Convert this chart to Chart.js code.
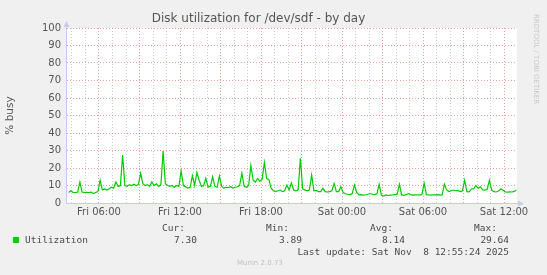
<!DOCTYPE html>
<html>
<head>
<meta charset="utf-8">
<script src="https://cdn.jsdelivr.net/npm/chart.js@4/dist/chart.umd.min.js"></script>
<style>
    html, body { margin: 0; padding: 0; background: #f0f0f0; }
    #wrap { position: relative; width: 547px; height: 275px; overflow: hidden; }
    #chartCanvas { position: absolute; left: 0; top: 0; }
    .txt { position: absolute; font-family: 'DejaVu Sans Mono', monospace; font-size: 9.5px; line-height: 11px; color: #4a4a4a; white-space: pre; }
    .r { text-align: right; }
    #swatch { position: absolute; left: 13px; top: 237px; width: 6px; height: 6px; background: #00cc00; }
    #munin { position: absolute; left: 237px; top: 259px; font-family: 'DejaVu Sans', sans-serif; font-size: 7px; color: #c0c0c0; }
    #rrd { position: absolute; left: 532px; top: 14px; font-family: 'DejaVu Sans', sans-serif; font-size: 7px; color: #c8c8c8; writing-mode: vertical-rl; }
</style>
</head>
<body>
<div id="wrap">
    <canvas id="chartCanvas" width="547" height="225"></canvas>
    <div class="txt r" style="right:362px;top:222px;">Cur:</div>
    <div class="txt r" style="right:258px;top:222px;">Min:</div>
    <div class="txt r" style="right:154px;top:222px;">Avg:</div>
    <div class="txt r" style="right:50px;top:222px;">Max:</div>
    <div id="swatch"></div>
    <div class="txt" style="left:25px;top:234px;">Utilization</div>
    <div class="txt r" id="curVal" style="right:350px;top:234px;"></div>
    <div class="txt r" id="minVal" style="right:245px;top:234px;"></div>
    <div class="txt r" id="avgVal" style="right:142px;top:234px;"></div>
    <div class="txt r" id="maxVal" style="right:38px;top:234px;"></div>
    <div class="txt r" style="right:38px;top:246px;">Last update: Sat Nov  8 12:55:24 2025</div>
    <div id="munin">Munin 2.0.73</div>
    <div id="rrd">RRDTOOL / TOBI OETIKER</div>
</div>
<script>
// chart data, one sample every 10 minutes starting Fri 03:45 (hours counted from Fri 00:00)
var chartTitle = 'Disk utilization for /dev/sdf - by day';
var yTitle = '% busy';
var startHour = 3.75;
var stepMinutes = 10;
var busyValues = [
    6.0, 7.0, 6.0, 6.0, 6.2, 12.0, 6.2, 6.0, 6.1, 6.0,
    6.2, 5.4, 6.0, 6.5, 13.0, 7.5, 8.0, 7.4, 8.2, 9.0,
    8.5, 12.0, 9.5, 10.0, 27.4, 10.0, 9.5, 10.5, 10.0, 10.7,
    10.0, 10.5, 17.0, 11.0, 10.0, 10.5, 9.5, 12.0, 10.0, 11.0,
    9.5, 10.5, 29.64, 11.0, 10.0, 9.5, 10.0, 9.0, 10.0, 9.5,
    18.3, 10.0, 9.3, 8.5, 9.0, 15.5, 10.0, 17.5, 13.0, 9.5,
    10.0, 14.0, 9.0, 9.5, 15.0, 9.5, 9.0, 15.5, 9.5, 8.5,
    9.0, 8.8, 9.3, 8.5, 9.0, 9.3, 10.0, 17.0, 9.5, 9.0,
    10.0, 21.5, 13.0, 12.0, 14.0, 12.5, 13.5, 23.2, 14.0, 13.5,
    8.5, 7.0, 6.5, 7.0, 7.4, 6.5, 7.0, 10.3, 7.5, 11.4,
    7.4, 7.0, 7.5, 25.6, 8.0, 7.5, 7.0, 7.4, 16.0, 7.0,
    7.2, 6.5, 6.5, 8.4, 6.5, 6.3, 6.5, 7.0, 11.2, 6.5,
    6.5, 9.3, 6.0, 5.3, 5.0, 4.8, 5.2, 10.3, 6.0, 4.6,
    4.8, 4.5, 4.7, 5.0, 5.4, 5.0, 4.8, 5.2, 10.7, 4.5,
    3.89, 4.6, 4.3, 4.5, 4.6, 4.8, 5.0, 10.7, 4.6, 4.4,
    4.8, 5.4, 4.8, 4.5, 4.6, 4.7, 4.5, 4.8, 11.2, 4.8,
    4.6, 4.5, 4.7, 4.6, 4.8, 4.5, 4.6, 10.7, 7.5, 6.5,
    7.0, 7.4, 7.0, 7.2, 6.5, 6.8, 13.0, 6.5, 6.3, 8.0,
    8.2, 10.0, 8.5, 9.3, 7.5, 7.4, 7.8, 13.0, 7.4, 6.5,
    6.3, 6.8, 8.0, 7.4, 6.3, 6.2, 6.4, 6.3, 6.6, 7.3
];
var xTickHours = [6, 12, 18, 24, 30, 36];
var xTickLabels = ['Fri 06:00', 'Fri 12:00', 'Fri 18:00', 'Sat 00:00', 'Sat 06:00', 'Sat 12:00'];
var xMinHour = 3.556;
var xMaxHour = 36.96;
var statValues = ['7.30', '3.89', '8.14', '29.64'];

var MGRID = 'rgba(230, 120, 120, 0.7)',
    GRID = 'rgba(190, 190, 190, 0.75)',
    AXIS = '#c8c8f4',
    TEXT = '#555';

function buildPoints() {
    var pts = [];
    for (var i = 0; i < busyValues.length; i++) {
        pts.push({x: startHour + i * stepMinutes / 60, y: busyValues[i]});
    }
    return pts;
}

// white plot area + the little rrdtool arrows on both axes
var plotDecor = {
    id: 'plotDecor',
    beforeDraw: function (chart) {
        var a = chart.chartArea, c = chart.ctx;
        c.save();
        c.fillStyle = '#ffffff';
        c.fillRect(a.left, a.top, a.right - a.left, a.bottom - a.top);
        c.restore();
    },
    afterDraw: function (chart) {
        var a = chart.chartArea, c = chart.ctx;
        c.save();
        c.strokeStyle = AXIS;
        c.fillStyle = AXIS;
        c.lineWidth = 1;
        c.beginPath();
        c.moveTo(a.left + 0.5, a.top);
        c.lineTo(a.left + 0.5, a.top - 4);
        c.moveTo(a.right, a.bottom + 0.5);
        c.lineTo(a.right + 4, a.bottom + 0.5);
        c.stroke();
        c.beginPath();
        c.moveTo(a.left + 0.5, a.top - 7);
        c.lineTo(a.left - 2.5, a.top - 1);
        c.lineTo(a.left + 3.5, a.top - 1);
        c.closePath();
        c.moveTo(a.right + 7, a.bottom + 0.5);
        c.lineTo(a.right + 1, a.bottom - 2.5);
        c.lineTo(a.right + 1, a.bottom + 3.5);
        c.closePath();
        c.fill();
        c.restore();
    }
};

function fillStats() {
    var ids = ['curVal', 'minVal', 'avgVal', 'maxVal'];
    for (var i = 0; i < ids.length; i++) {
        document.getElementById(ids[i]).textContent = statValues[i];
    }
}

function drawChart() {
    var ctx = document.getElementById('chartCanvas');
    new Chart(ctx, {
        type: 'line',
        data: {
            datasets: [{
                label: 'Utilization',
                data: buildPoints(),
                borderColor: '#00cc00',
                borderWidth: 1.2,
                pointRadius: 0,
                tension: 0,
                fill: false
            }]
        },
        options: {
            responsive: false,
            animation: false,
            layout: {padding: {left: 0, right: 30, top: 0, bottom: 0}},
            plugins: {
                legend: {display: false},
                tooltip: {enabled: false},
                title: {
                    display: true,
                    text: chartTitle,
                    color: TEXT,
                    font: {family: 'DejaVu Sans', size: 12, weight: 'normal'},
                    padding: {top: 12, bottom: 1.6}
                }
            },
            scales: {
                x: {
                    type: 'linear',
                    min: xMinHour,
                    max: xMaxHour,
                    afterBuildTicks: function (scale) {
                        var t = [];
                        for (var h = Math.ceil(xMinHour); h <= xMaxHour; h++) t.push({value: h});
                        scale.ticks = t;
                    },
                    ticks: {
                        autoSkip: false,
                        maxRotation: 0,
                        padding: 3,
                        color: TEXT,
                        font: {family: 'DejaVu Sans', size: 10},
                        callback: function (v) {
                            var k = xTickHours.indexOf(v);
                            return k >= 0 ? xTickLabels[k] : '';
                        }
                    },
                    grid: {
                        drawTicks: false,
                        color: function (c) { return c.tick && c.tick.value % 3 === 0 ? MGRID : GRID; }
                    },
                    border: {color: AXIS, dash: [1, 2]},
                    afterFit: function (scale) { scale.height = 22; }
                },
                y: {
                    min: 0,
                    max: 100,
                    ticks: {
                        stepSize: 5,
                        padding: 5,
                        color: TEXT,
                        font: {family: 'DejaVu Sans', size: 10},
                        callback: function (v) { return v % 10 === 0 ? String(v) : ''; }
                    },
                    grid: {
                        drawTicks: false,
                        color: function (c) { return c.tick && c.tick.value % 10 === 0 ? MGRID : GRID; }
                    },
                    border: {color: AXIS, dash: [1, 2]},
                    title: {
                        display: true,
                        text: yTitle,
                        color: TEXT,
                        font: {family: 'DejaVu Sans', size: 10.5},
                        padding: {top: 4, bottom: 0}
                    },
                    afterFit: function (scale) { scale.width = 66; }
                }
            }
        },
        plugins: [plotDecor]
    });
}

fillStats();
drawChart();
</script>
</body>
</html>
